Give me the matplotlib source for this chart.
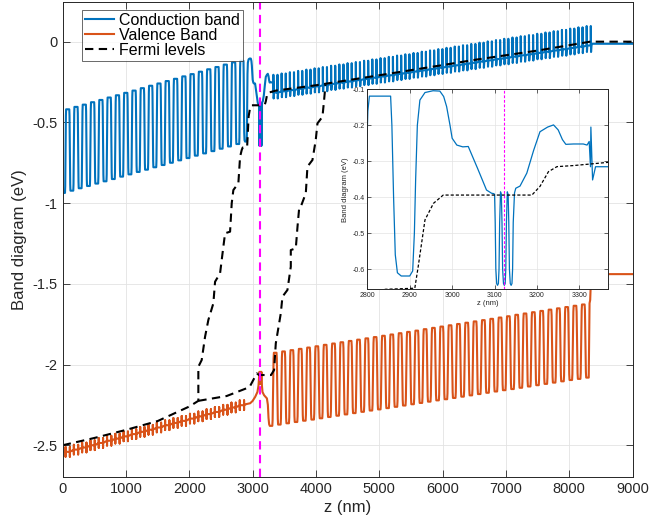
import matplotlib
matplotlib.use('Agg')
import matplotlib.pyplot as plt
from matplotlib.ticker import FuncFormatter

plt.rcParams['font.family'] = ['Liberation Sans', 'DejaVu Sans']
plt.rcParams['axes.unicode_minus'] = False

# ---- data (z in nm, energy in eV) ----
# left superlattice, conduction band: one low/high level per period
cb_left_centers = [13.5 + 131 * k for k in range(22)]
cb_left_bottom = [-0.937, -0.923, -0.908, -0.894, -0.879, -0.865, -0.851, -0.836, -0.822, -0.807, -0.793,
                  -0.778, -0.764, -0.750, -0.735, -0.721, -0.706, -0.692, -0.678, -0.663, -0.649, -0.634]
cb_left_top = [-0.419, -0.404, -0.390, -0.375, -0.361, -0.346, -0.332, -0.317, -0.303, -0.288, -0.273,
               -0.259, -0.244, -0.230, -0.215, -0.201, -0.186, -0.171, -0.157, -0.142, -0.128, -0.119]

# active region, conduction band (as in the inset)
cb_mid_z = [2858, 2862, 2866, 2871, 2880, 2900, 2907, 2911, 2914, 2918, 2924, 2936, 2955, 2971, 2980, 2987,
            2995, 3000, 3011, 3025, 3038, 3060, 3081, 3093, 3098,
            3100, 3101.5, 3103, 3105, 3107, 3109, 3110.5, 3112, 3114,
            3116, 3117.5, 3119, 3121, 3123, 3125, 3126.5, 3128, 3130,
            3132, 3133.5, 3135, 3137, 3139, 3141, 3142.5, 3144, 3147,
            3150, 3160, 3176, 3192, 3207, 3225, 3239, 3250, 3260, 3268, 3286, 3309, 3318, 3323]
cb_mid_v = [-0.20, -0.40, -0.56, -0.610, -0.619, -0.619, -0.605, -0.50, -0.35, -0.20, -0.13, -0.109, -0.104,
            -0.105, -0.12, -0.148, -0.20, -0.236, -0.255, -0.260, -0.259, -0.32, -0.380, -0.389, -0.390,
            -0.392, -0.47, -0.60, -0.640, -0.645, -0.640, -0.60, -0.47, -0.385,
            -0.392, -0.47, -0.60, -0.640, -0.645, -0.640, -0.60, -0.47, -0.385,
            -0.392, -0.47, -0.60, -0.640, -0.645, -0.640, -0.60, -0.47, -0.388,
            -0.375, -0.369, -0.333, -0.27, -0.218, -0.205, -0.199, -0.213, -0.240, -0.253, -0.252, -0.252,
            -0.255, -0.245]

# right superlattice, conduction band: spike top / dip bottom per period
cb_right_starts = [3327 + 130.2 * k for k in range(39)]
cb_right_top = [-0.205, -0.197, -0.189, -0.181, -0.173, -0.165, -0.157, -0.149, -0.141, -0.133, -0.126,
                -0.118, -0.110, -0.102, -0.094, -0.086, -0.078, -0.070, -0.062, -0.054, -0.046, -0.038,
                -0.030, -0.022, -0.014, -0.006, 0.002, 0.010, 0.018, 0.026, 0.034, 0.041, 0.049, 0.057,
                0.065, 0.073, 0.081, 0.089, 0.097]
cb_right_bottom = [-0.352, -0.344, -0.337, -0.329, -0.322, -0.314, -0.307, -0.299, -0.291, -0.284, -0.276,
                   -0.269, -0.261, -0.253, -0.246, -0.238, -0.231, -0.223, -0.216, -0.208, -0.200, -0.193,
                   -0.185, -0.178, -0.170, -0.162, -0.155, -0.147, -0.140, -0.132, -0.124, -0.117, -0.109,
                   -0.102, -0.094, -0.087, -0.079, -0.071, -0.064]
cb_tail_z = [8360, 9000]
cb_tail_v = [-0.013, -0.013]

# left superlattice, valence band: mean level per period
vb_left_mid = [-2.541, -2.527, -2.514, -2.500, -2.486, -2.472, -2.459, -2.445, -2.431, -2.417, -2.404,
               -2.390, -2.376, -2.362, -2.349, -2.335, -2.321, -2.307, -2.294, -2.280, -2.266, -2.252]
vb_left_spike = 0.03

vb_mid_z = [2900, 2960, 3000, 3040, 3075, 3092, 3099, 3103, 3106, 3109, 3114, 3119, 3122, 3125, 3130,
            3135, 3138, 3141, 3146, 3155, 3180, 3225, 3240, 3250, 3260]
vb_mid_v = [-2.245, -2.24, -2.225, -2.20, -2.17, -2.13, -2.09, -2.05, -2.045, -2.05, -2.12, -2.05, -2.045,
            -2.05, -2.12, -2.05, -2.045, -2.05, -2.13, -2.17, -2.19, -2.21, -2.25, -2.33, -2.37]

# right superlattice, valence band
vb_right_centers = [3290 + 131.5 * k for k in range(39)]
vb_right_bottom = [-2.380, -2.372, -2.364, -2.356, -2.348, -2.341, -2.333, -2.325, -2.317, -2.309, -2.301,
                   -2.293, -2.285, -2.278, -2.270, -2.262, -2.254, -2.246, -2.238, -2.230, -2.222, -2.215,
                   -2.207, -2.199, -2.191, -2.183, -2.175, -2.167, -2.159, -2.152, -2.144, -2.136, -2.128,
                   -2.120, -2.112, -2.104, -2.096, -2.089, -2.081]
vb_right_top = [-1.927, -1.919, -1.911, -1.903, -1.895, -1.887, -1.878, -1.870, -1.862, -1.854, -1.846,
                -1.838, -1.830, -1.822, -1.814, -1.806, -1.798, -1.790, -1.781, -1.773, -1.765, -1.757,
                -1.749, -1.741, -1.733, -1.725, -1.717, -1.709, -1.701, -1.692, -1.684, -1.676, -1.668,
                -1.660, -1.652, -1.644, -1.636, -1.628]
vb_tail_z = [8320, 8330, 8345, 9000]
vb_tail_v = [-1.62, -1.60, -1.44, -1.44]

# quasi Fermi levels
fermi_a_z = [0, 500, 1000, 1500, 2000, 2142, 2142, 2195, 2248, 2300, 2379, 2406, 2485, 2537, 2564, 2643,
             2669, 2695, 2774, 2801, 2827, 2842, 2912, 2920, 2936, 2956, 2979, 3188, 3207, 3227, 3247,
             3286, 3368, 4000, 5000, 6000, 6500, 7500, 8330, 9000]
fermi_a_v = [-2.50, -2.455, -2.405, -2.35, -2.26, -2.225, -2.014, -1.972, -1.828, -1.724, -1.621, -1.487,
             -1.435, -1.27, -1.187, -1.177, -1.001, -0.919, -0.877, -0.713, -0.671, -0.656, -0.653, -0.593,
             -0.463, -0.417, -0.394, -0.394, -0.370, -0.329, -0.315, -0.312, -0.303, -0.27, -0.208,
             -0.145, -0.113, -0.055, 0.0, 0.0]
fermi_b_z = [2142, 2590, 2950, 3065, 3100, 3290, 3338, 3365, 3444, 3470, 3549, 3602, 3602, 3681, 3708,
             3734, 3760, 3839, 3865, 3944, 3996, 4023, 4102, 4128, 4150]
fermi_b_v = [-2.225, -2.195, -2.14, -2.055, -2.065, -2.065, -2.034, -1.869, -1.683, -1.58, -1.538, -1.394,
             -1.291, -1.28, -1.146, -1.032, -1.022, -0.939, -0.774, -0.733, -0.609, -0.506, -0.465,
             -0.361, -0.265]

qw_z = 3123


def step(z0, z1, v0, v1):
    # soft step between two plateaus (rounded corners)
    d = v1 - v0
    w = z1 - z0
    return ([z0 + 0.2 * w, z0 + 0.5 * w, z0 + 0.8 * w],
            [v0 + 0.08 * d, v0 + 0.5 * d, v0 + 0.92 * d])


def square_wave(centers, lows, highs, w_low, w_rise, w_high, period):
    zs, vs = [], []
    for i, c in enumerate(centers):
        a = c - w_low / 2
        zs += [a, a + w_low]
        vs += [lows[i], lows[i]]
        if i < len(highs):
            sz, sv = step(a + w_low, a + w_low + w_rise, lows[i], highs[i])
            zs += sz
            vs += sv
            zs += [a + w_low + w_rise, a + w_low + w_rise + w_high]
            vs += [highs[i], highs[i]]
            if i + 1 < len(lows):
                sz, sv = step(a + w_low + w_rise + w_high, a + period, highs[i], lows[i + 1])
                zs += sz
                vs += sv
    return zs, vs


def spike_wave(starts, tops, bottoms, half, frac=0.25):
    zs, vs = [], []
    for s0, t, b in zip(starts, tops, bottoms):
        p = b + frac * (t - b)
        for s in (s0, s0 + half):
            zs += [s - 1, s, s + 4, s + 11]
            vs += [p, t, b, p]
    return zs, vs


def tick_wave(centers, mids, amp):
    zs, vs = [0], [mids[0]]
    for c, m in zip(centers, mids):
        for s in (c + 31.5, c + 99.5):
            zs += [s, s, s, s]
            vs += [m, m + amp, m - amp, m]
    return zs, vs


z1, v1 = square_wave(cb_left_centers, cb_left_bottom, cb_left_top, 45, 18, 50, 131)
z3, v3 = spike_wave(cb_right_starts, cb_right_top, cb_right_bottom, 65)
cb_z = z1 + cb_mid_z + z3 + cb_tail_z
cb_v = v1 + cb_mid_v + v3 + cb_tail_v

w1, u1 = tick_wave(cb_left_centers, vb_left_mid, vb_left_spike)
w3, u3 = square_wave(vb_right_centers, vb_right_bottom, vb_right_top, 40, 25, 41.5, 131.5)
vb_z = w1 + vb_mid_z + w3 + vb_tail_z
vb_v = u1 + vb_mid_v + u3 + vb_tail_v

blue = '#0072BD'
orange = '#D95319'
dark = '#262626'

fig = plt.figure(figsize=(6.65, 5.21), dpi=100)
ax = fig.add_axes([0.0943, 0.085, 0.857, 0.9103])

ax.plot(cb_z, cb_v, color=blue, lw=1.5, label='Conduction band')
ax.plot(vb_z, vb_v, color=orange, lw=1.5, label='Valence Band')
ax.plot(fermi_a_z, fermi_a_v, color='k', ls='--', lw=1.5, dashes=(4, 2.6), label='Fermi levels')
ax.plot(fermi_b_z, fermi_b_v, color='k', ls='--', lw=1.5, dashes=(4, 2.6))
ax.axvline(qw_z, color='#FF00FF', ls='--', lw=1.5, dashes=(4, 2.6))

ax.set_xlim(0, 9000)
ax.set_ylim(-2.695, 0.243)
ax.set_xticks(range(0, 9001, 1000))
ax.set_yticks([-2.5, -2, -1.5, -1, -0.5, 0])
ax.yaxis.set_major_formatter(FuncFormatter(lambda v, p: '%g' % v))
ax.grid(True, color='#e3e3e3', lw=0.6)
ax.set_axisbelow(True)
ax.tick_params(direction='in', top=True, right=True, length=5, width=0.6,
               labelsize=10.5, colors=dark)
for sp in ax.spines.values():
    sp.set_color(dark)
    sp.set_linewidth(0.7)
ax.set_xlabel('z (nm)', fontsize=12, color=dark, labelpad=3)
ax.set_ylabel('Band diagram (eV)', fontsize=12, color=dark, labelpad=4)

leg = ax.legend(loc='upper left', bbox_to_anchor=(0.034, 0.985), borderaxespad=0,
                fontsize=11.5, frameon=True, fancybox=False, edgecolor=dark,
                handlelength=1.8, labelspacing=0.0, borderpad=0.2, handletextpad=0.3)
leg.get_frame().set_linewidth(0.6)

# ---- inset ----
ins = fig.add_axes([0.5523, 0.4447, 0.3624, 0.3839])
ins.set_facecolor('white')
ins.plot(cb_z, cb_v, color=blue, lw=0.9)
ins.plot(fermi_a_z, fermi_a_v, color='k', ls='--', lw=0.9, dashes=(2.5, 1.6))
ins.axvline(qw_z, color='#FF00FF', ls='--', lw=0.8, dashes=(2.5, 1.6))
ins.set_xlim(2800, 3368)
ins.set_ylim(-0.656, -0.1)
ins.set_xticks(range(2800, 3301, 100))
ins.set_yticks([-0.6, -0.5, -0.4, -0.3, -0.2, -0.1])
ins.yaxis.set_major_formatter(FuncFormatter(lambda v, p: '%g' % v))
ins.grid(True, color='#e3e3e3', lw=0.5)
ins.set_axisbelow(True)
ins.tick_params(direction='in', top=True, right=True, length=3, width=0.5,
                labelsize=5, colors=dark, pad=2)
for sp in ins.spines.values():
    sp.set_color(dark)
    sp.set_linewidth(0.7)
ins.set_xlabel('z (nm)', fontsize=5.5, color=dark, labelpad=1)
ins.set_ylabel('Band diagram (eV)', fontsize=5.5, color=dark, labelpad=2)

fig.savefig('out.png', dpi=100)
